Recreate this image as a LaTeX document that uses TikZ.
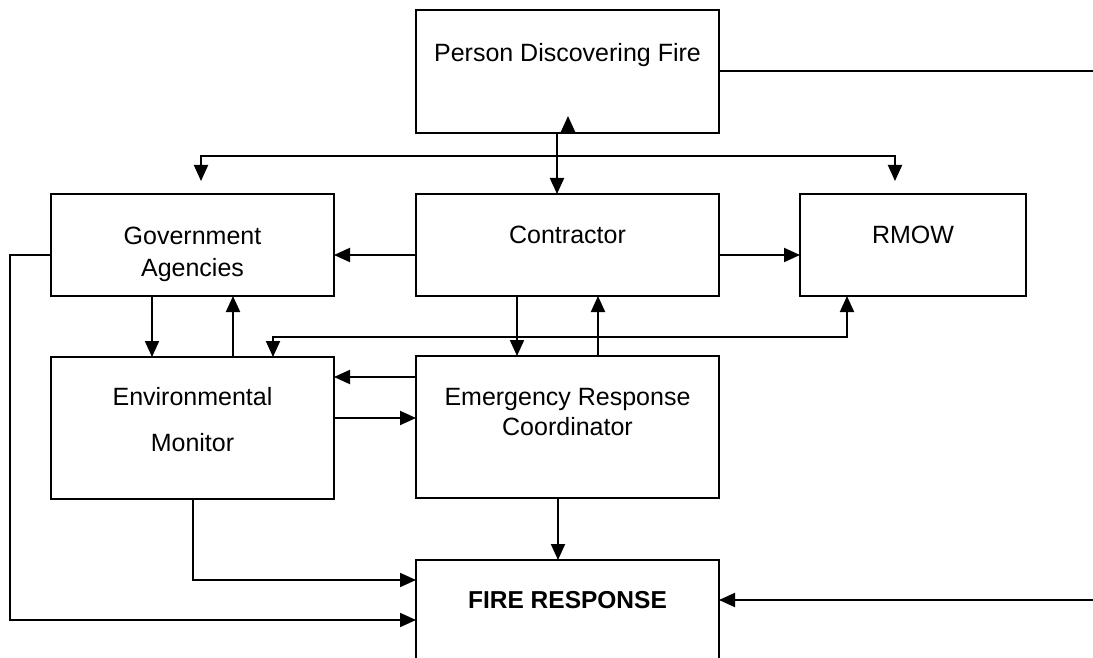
\documentclass[tikz,border=0pt]{standalone}
\usepackage{fontspec}
\setmainfont{Liberation Sans}
\usetikzlibrary{arrows.meta}
\begin{document}
\begin{tikzpicture}[x=1pt,y=-1pt,
  box/.style={draw,line width=2pt,inner sep=0pt,outer sep=0pt},
  lbl/.style={font=\fontsize{25}{30}\selectfont,align=center,inner sep=0pt},
  conn/.style={line width=2pt},
  arr/.style={conn,-{Triangle[length=16pt,width=14pt]}},
  both/.style={conn,{Triangle[length=16pt,width=14pt]}-{Triangle[length=16pt,width=14pt]}}]
\useasboundingbox (0,0) rectangle (1093,658);
\clip (0,0) rectangle (1093,658);
% boxes
\node[box,minimum width=303pt,minimum height=123pt] (person) at (567.5,71.5) {};
\node[box,minimum width=283pt,minimum height=102pt] (gov) at (192.5,245) {};
\node[box,minimum width=303pt,minimum height=102pt] (con) at (567.5,245) {};
\node[box,minimum width=226pt,minimum height=102pt] (rmow) at (913,245) {};
\node[box,minimum width=283pt,minimum height=142pt] (env) at (192.5,428) {};
\node[box,minimum width=303pt,minimum height=142pt] (erc) at (567.5,427) {};
\node[box,minimum width=303pt,minimum height=140pt] (fire) at (567.5,630) {};
% texts
\node[lbl] (tperson) at (567.5,55) {Person Discovering Fire};
\node[lbl] (tcon) at (567.5,235) {Contractor};
\node[lbl] (trmow) at (913,235) {RMOW};
\node[lbl,font=\fontsize{25}{32}\selectfont] (tgov) at (192.5,254) {Government\\Agencies};
\node[lbl,font=\fontsize{25}{46}\selectfont] (tenv) at (192.5,420) {Environmental\\Monitor};
\node[lbl,font=\fontsize{25}{30}\selectfont] (terc) at (567.5,412) {Emergency Response\\Coordinator};
\node[lbl,font=\fontsize{24.5}{30}\selectfont\bfseries] (tfire) at (567.5,600) {FIRE RESPONSE};
% connectors from person
\coordinate (j) at (557,156);
\coordinate (gl) at (201,181);
\coordinate (rl) at (895,181);
\draw[arr] ([xshift=-10.5pt]person.south) -- ([xshift=-10.5pt]con.north);
\draw[arr] (j) -| (gl);
\draw[arr] (j) -| (rl);
\coordinate (sa) at (568,133);
\draw[arr] (sa) -- ++(0,-17);
\coordinate (pr) at (1093,71.5);
\draw[conn] (person.east) -- (pr);
% contractor to sides
\draw[arr] ([yshift=-10pt]con.west) -- ([yshift=-10pt]gov.east);
\draw[arr] ([yshift=-10pt]con.east) -- ([yshift=-10pt]rmow.west);
% gov <-> env
\draw[arr] ([xshift=-40.5pt]gov.south) -- ([xshift=-40.5pt]env.north);
\draw[arr] ([xshift=40.5pt]env.north) -- ([xshift=40.5pt]gov.south);
% con <-> erc
\draw[arr] ([xshift=-50.5pt]con.south) -- ([xshift=-50.5pt]erc.north);
\draw[arr] ([xshift=30.5pt]erc.north) -- ([xshift=30.5pt]con.south);
% env <-> rmow
\draw[both] ([xshift=80.5pt]env.north) -- ++(0,-20) -| ([xshift=-66pt]rmow.south);
% erc <-> env
\draw[arr] ([yshift=50pt]erc.west) -- ([yshift=50pt]erc.west -| env.east);
\draw[arr] ([yshift=10pt]env.east) -- ([yshift=10pt]env.east -| erc.west);
% to fire
\draw[arr] ([xshift=-9.5pt]erc.south) -- ([xshift=-9.5pt]erc.south |- fire.north);
\draw[arr] (env.south) |- ([yshift=50pt]fire.west);
\draw[arr] ([yshift=-10pt]gov.west) -- ++(-41,0) |- ([yshift=10pt]fire.west);
\coordinate (fr) at (1093,600);
\draw[arr] (fr) -- (fr -| fire.east);
\end{tikzpicture}
\end{document}
